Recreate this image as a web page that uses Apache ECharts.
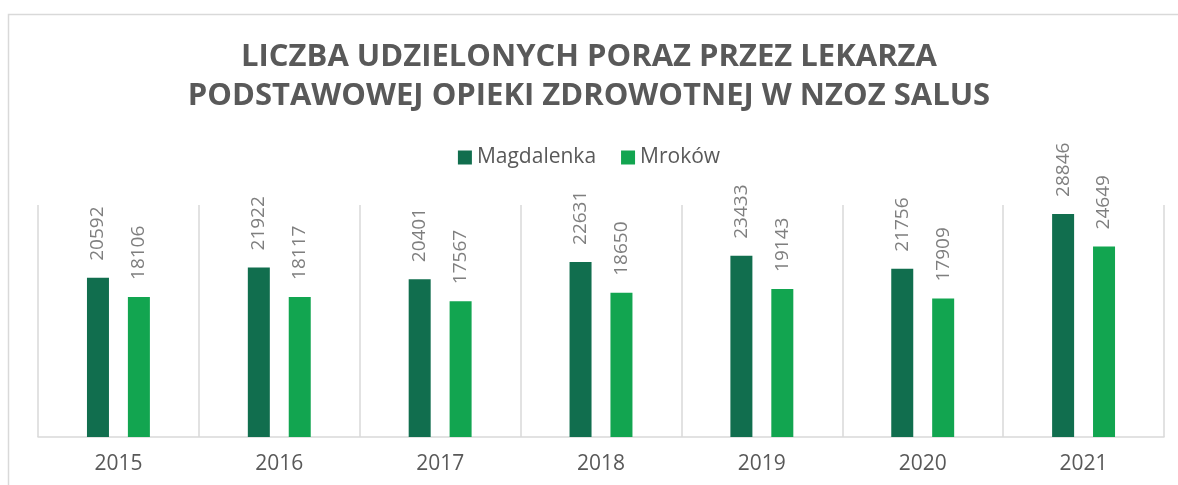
<!DOCTYPE html>
<html>
<head>
<meta charset="utf-8">
<script src="https://cdn.jsdelivr.net/npm/echarts@6/dist/echarts.min.js"></script>
<style>
html,body{margin:0;padding:0;background:#fff;}
#chart{width:1178px;height:485px;}
</style>
</head>
<body>
<div id="chart"></div>
<script>
var titleText = "LICZBA UDZIELONYCH PORAZ PRZEZ LEKARZA\nPODSTAWOWEJ OPIEKI ZDROWOTNEJ W NZOZ SALUS";
var categories = ["2015", "2016", "2017", "2018", "2019", "2020", "2021"];
var seriesNames = ["Magdalenka", "Mroków"];
var magdalenka = [20592, 21922, 20401, 22631, 23433, 21756, 28846];
var mrokow = [18106, 18117, 17567, 18650, 19143, 17909, 24649];
var colors = ["#116E4E", "#12A550"];

var chart = echarts.init(document.getElementById('chart'), null, {renderer: 'canvas'});
var labelCfg = {
  show: true,
  position: 'top',
  rotate: 90,
  align: 'left',
  verticalAlign: 'middle',
  distance: 17,
  color: '#7F7F7F',
  fontFamily: 'Open Sans',
  fontSize: 19
};
chart.setOption({
  backgroundColor: '#ffffff',
  animation: false,
  graphic: [{
    type: 'rect',
    shape: {x: 8.5, y: 14.5, width: 1300, height: 600},
    style: {fill: 'none', stroke: '#D9D9D9', lineWidth: 1.5},
    silent: true,
    z: -10
  }],
  title: {
    text: titleText,
    left: 'center',
    top: 33,
    textStyle: {
      fontFamily: 'Open Sans',
      fontWeight: 'bold',
      fontSize: 31,
      lineHeight: 39,
      color: '#595959'
    }
  },
  legend: {
    data: seriesNames,
    top: 142,
    left: 'center',
    itemWidth: 14,
    itemHeight: 14,
    itemGap: 25,
    icon: 'rect',
    textStyle: {fontFamily: 'Open Sans', fontSize: 21, color: '#595959'}
  },
  grid: {left: 38, right: 14, top: 205, bottom: 48, containLabel: false},
  xAxis: {
    type: 'category',
    data: categories,
    axisLine: {lineStyle: {color: '#D9D9D9', width: 1.5}},
    axisTick: {show: false},
    splitLine: {show: true, lineStyle: {color: '#D9D9D9', width: 1.5}},
    axisLabel: {fontFamily: 'Open Sans', fontSize: 21, color: '#595959', margin: 17}
  },
  yAxis: {
    type: 'value',
    min: 0,
    max: 30000,
    show: false,
    splitLine: {show: false}
  },
  series: [{
    name: seriesNames[0],
    type: 'bar',
    data: magdalenka,
    barWidth: 22,
    barGap: '86%',
    itemStyle: {color: colors[0]},
    label: labelCfg
  }, {
    name: seriesNames[1],
    type: 'bar',
    data: mrokow,
    barWidth: 22,
    itemStyle: {color: colors[1]},
    label: labelCfg
  }]
});
</script>
</body>
</html>
